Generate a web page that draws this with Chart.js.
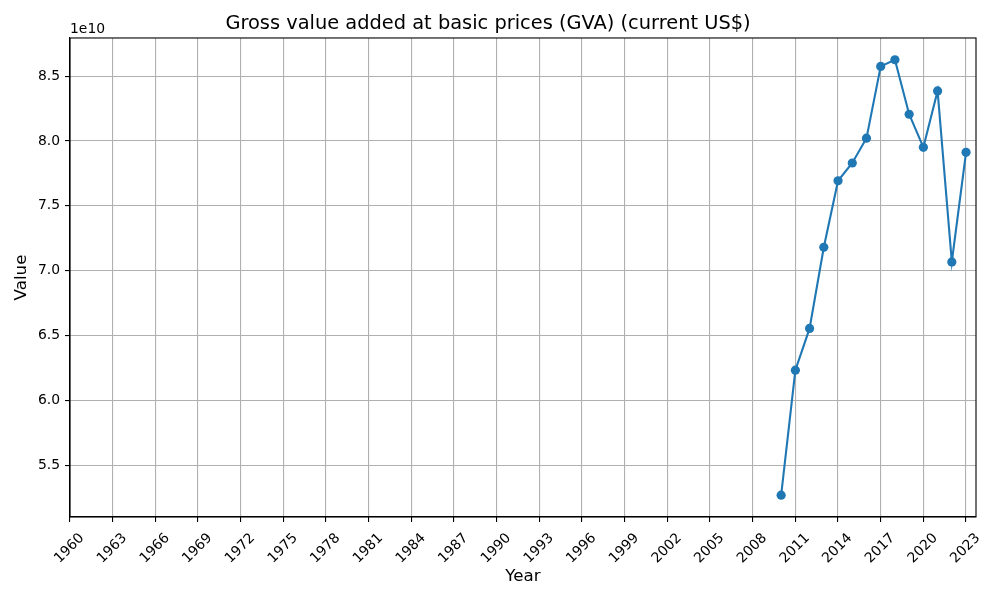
<!DOCTYPE html>
<html><head><meta charset="utf-8">
<script src="https://cdn.jsdelivr.net/npm/chart.js@4"></script>
<style>html,body{margin:0;padding:0;background:#fff}</style>
</head><body>
<canvas id="c" width="1000" height="600"></canvas>
<script>
const years = [2010, 2011, 2012, 2013, 2014, 2015, 2016, 2017, 2018, 2019, 2020, 2021, 2022, 2023];
const gvaValues = [5.268e10, 6.232e10, 6.554e10, 7.180e10, 7.693e10, 7.830e10, 8.021e10, 8.575e10, 8.626e10, 8.206e10, 7.951e10, 8.386e10, 7.067e10, 7.912e10];
const xTicks = [1960, 1963, 1966, 1969, 1972, 1975, 1978, 1981, 1984, 1987, 1990, 1993, 1996, 1999, 2002, 2005, 2008, 2011, 2014, 2017, 2020, 2023];
const yTicks = [5.5e10, 6.0e10, 6.5e10, 7.0e10, 7.5e10, 8.0e10, 8.5e10];
const titleText = 'Gross value added at basic prices (GVA) (current US$)';
const xLabel = 'Year';
const yLabel = 'Value';
const offsetText = '1e10';

const FONT = "'DejaVu Sans', sans-serif";
const points = years.map((y, i) => ({x: y, y: gvaValues[i]}));

const framePlugin = {
  id: 'frame',
  afterDraw(chart) {
    const {ctx, chartArea: a} = chart;
    ctx.save();
    ctx.strokeStyle = '#000';
    ctx.lineWidth = 1.1;
    ctx.strokeRect(a.left, a.top, a.right - a.left, a.bottom - a.top);
    ctx.fillStyle = '#000';
    ctx.font = "13.9px " + FONT;
    ctx.textAlign = 'left';
    ctx.textBaseline = 'bottom';
    ctx.fillText(offsetText, a.left, a.top - 2);
    ctx.restore();
  }
};

new Chart(document.getElementById('c'), {
  type: 'line',
  data: {
    datasets: [{
      data: points,
      borderColor: '#1f77b4',
      backgroundColor: '#1f77b4',
      borderWidth: 2.1,
      pointRadius: 4.6,
      pointHoverRadius: 4.6,
      pointBorderWidth: 0,
      tension: 0,
      fill: false
    }]
  },
  options: {
    responsive: false,
    animation: false,
    devicePixelRatio: 1,
    layout: {padding: {left: 0, right: 24, top: 0, bottom: 0}},
    plugins: {
      legend: {display: false},
      tooltip: {enabled: false},
      title: {
        display: true,
        text: titleText,
        color: '#000',
        font: {family: FONT, size: 19.4, weight: 'normal'},
        padding: {top: 12.5, bottom: 2.2}
      }
    },
    scales: {
      x: {
        type: 'linear',
        min: 1960,
        max: 2023.7,
        afterBuildTicks(scale) { scale.ticks = xTicks.map(v => ({value: v})); },
        afterFit(scale) { scale.height = 83; },
        ticks: {
          color: '#000',
          font: {family: FONT, size: 13.9},
          minRotation: 45,
          maxRotation: 45,
          autoSkip: false,
          labelOffset: 12,
          padding: 8,
          callback: v => String(v)
        },
        grid: {color: '#b0b0b0', lineWidth: 1.1, tickColor: '#000', tickLength: 5},
        border: {color: '#000', width: 1.1},
        title: {
          display: true,
          text: xLabel,
          color: '#000',
          font: {family: FONT, size: 16.7},
          padding: {top: 4, bottom: 13}
        }
      },
      y: {
        type: 'linear',
        min: 5.100e10,
        max: 8.794e10,
        afterBuildTicks(scale) { scale.ticks = yTicks.map(v => ({value: v})); },
        afterFit(scale) { scale.width = 70; },
        ticks: {
          color: '#000',
          font: {family: FONT, size: 13.9},
          padding: 5,
          callback: v => (v / 1e10).toFixed(1)
        },
        grid: {color: '#b0b0b0', lineWidth: 1.1, tickColor: '#000', tickLength: 5},
        border: {color: '#000', width: 1.1},
        title: {
          display: true,
          text: yLabel,
          color: '#000',
          font: {family: FONT, size: 16.7},
          padding: {top: 12, bottom: 0}
        }
      }
    }
  },
  plugins: [framePlugin]
});
</script>
</body></html>
